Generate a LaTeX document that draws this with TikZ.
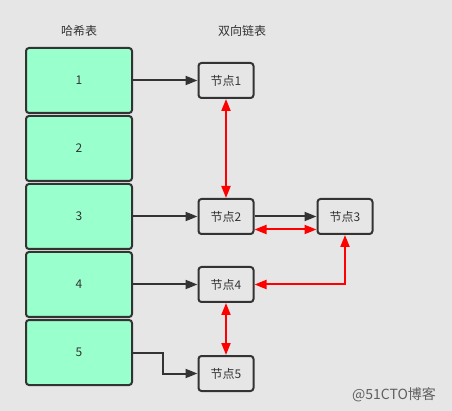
\documentclass[tikz,border=0pt]{standalone}
\usepackage{fontspec}
\usepackage{tikz}
\usetikzlibrary{positioning,arrows.meta,calc}
\newfontfamily\cjk{Noto Sans CJK SC}
\definecolor{fondo}{RGB}{230,230,230}
\definecolor{menta}{RGB}{153,255,204}
\definecolor{borde}{RGB}{51,51,51}
\definecolor{rojo}{RGB}{255,0,0}
\definecolor{gristexto}{RGB}{51,51,51}
\definecolor{marcagris}{RGB}{95,95,95}

\begin{document}
\begin{tikzpicture}[
  x=1pt, y=-1pt,
  font=\cjk\fontsize{12}{14}\selectfont,
  cubeta/.style={draw=borde, line width=2pt, fill=menta, rounded corners=3pt,
                 minimum width=106pt, minimum height=65pt, inner sep=0pt,
                 text=gristexto},
  nodo/.style={draw=borde, line width=2pt, fill=fondo, rounded corners=3pt,
               minimum width=55pt, minimum height=35pt, inner sep=0pt,
               text=gristexto},
  titulo/.style={text=gristexto},
  enlace/.style={draw=borde, line width=2pt,
                 -{Triangle[length=12pt,width=9pt]}},
  doble/.style={draw=rojo, line width=2pt,
                {Triangle[length=12pt,width=9pt]}-{Triangle[length=12pt,width=9pt]}},
]
% ---- Fondo ----------------------------------------------------------------
\fill[fondo] (0,0) rectangle (452,411);
% ---- Tabla hash -----------------------------------------------------------
\node[titulo] (tabla) at (79,31) {哈希表};
\foreach \i in {1,...,5} {
  \node[cubeta] (h\i) at (79,80.5+68*\i-68) {\i};
}
% ---- Lista doble ----------------------------------------------------------
\node[titulo] (lista) at (242,31) {双向链表};
\node[nodo] (n1) at (226,80.5) {节点1};
\node[nodo] (n2) at (226,216.5) {节点2};
\node[nodo] (n3) at (345,216.5) {节点3};
\node[nodo] (n4) at (226,284.5) {节点4};
\node[nodo] (n5) at (226,373.5) {节点5};
% ---- Enlaces --------------------------------------------------------------
\draw[enlace] (h1) -- (n1);
\draw[enlace] (h3) -- (n2);
\draw[enlace] (h4) -- (n4);
\draw[enlace] (h5.east) -- ++(30,0) |- (n5.west);
\draw[enlace] (n2) -- (n3);
\draw[doble] (n1) -- (n2);
\draw[doble] ([yshift=-13pt]n2.east) -- ([yshift=-13pt]n3.west);
\draw[doble] (n4.east) -| (n3.south);
\draw[doble] (n4) -- (n5);
% ---- Marca ----------------------------------------------------------------
\node[text=marcagris, font=\cjk\fontsize{14}{16}\selectfont] (marca)
  at (394,395) {@51CTO博客};
\end{tikzpicture}
\end{document}
